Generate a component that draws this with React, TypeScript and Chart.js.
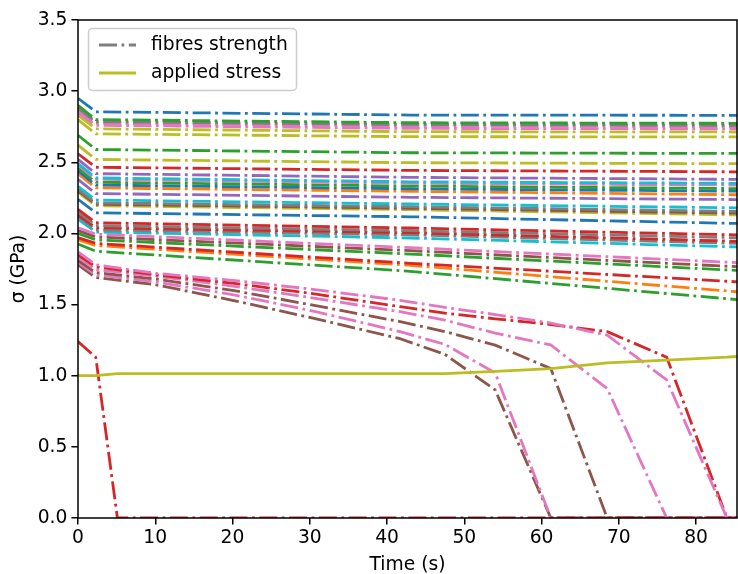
import React, { useEffect, useRef } from 'react';
import { Chart, registerables } from 'chart.js';

Chart.register(...registerables);

// tab10 colours
const C0 = '#1f77b4';
const C1 = '#ff7f0e';
const C2 = '#2ca02c';
const C3 = '#d62728';
const C4 = '#9467bd';
const C5 = '#8c564b';
const C6 = '#e377c2';
const C7 = '#7f7f7f';
const C8 = '#bcbd22';
const C9 = '#17becf';

const X_MAX = 85.3;
const Y_TICKS = [0, 0.5, 1.0, 1.5, 2.0, 2.5, 3.0, 3.5];

// Surviving fibres: sampled at these times
const FLAT_T = [0, 2.3, 43, 85.3];
const FLAT_COLORS = [
  C0, C2, C7, C6, C6, C8, C8, C2, C8, C3, C4, C9, C6, C2, C0, C1, C4, C9, C7, C5, C8, C0,
  C3, C7, C3, C7, C9, C6, C5, C2, C3, C1, C2,
];
const FLAT_V0 = [
  2.95, 2.9, 2.88, 2.87, 2.85, 2.83, 2.8, 2.69, 2.62, 2.56, 2.52, 2.49, 2.48, 2.46, 2.44, 2.42, 2.38, 2.33, 2.31, 2.3, 2.29, 2.24,
  2.17, 2.15, 2.13, 2.12, 2.1, 2.04, 2.02, 2.0, 1.97, 1.955, 1.925,
];
const FLAT_V1 = [
  2.855, 2.8, 2.785, 2.775, 2.76, 2.735, 2.7, 2.59, 2.52, 2.465, 2.42, 2.39, 2.38, 2.36, 2.34, 2.32, 2.28, 2.235, 2.215, 2.205, 2.195, 2.145,
  2.075, 2.055, 2.04, 2.025, 2.01, 1.995, 1.975, 1.955, 1.93, 1.915, 1.875,
];
const FLAT_V43 = [
  2.832, 2.778, 2.766, 2.755, 2.738, 2.715, 2.68, 2.567, 2.497, 2.443, 2.394, 2.363, 2.352, 2.333, 2.314, 2.296, 2.254, 2.207, 2.188, 2.177, 2.167, 2.117,
  2.038, 2.019, 2.005, 1.99, 1.968, 1.9, 1.879, 1.855, 1.79, 1.776, 1.734,
];
const FLAT_VEND = [
  2.83, 2.774, 2.76, 2.75, 2.735, 2.713, 2.678, 2.562, 2.49, 2.433, 2.38, 2.352, 2.34, 2.315, 2.297, 2.272, 2.238, 2.18, 2.155, 2.142, 2.13, 2.07,
  1.99, 1.97, 1.945, 1.93, 1.905, 1.795, 1.766, 1.74, 1.66, 1.59, 1.535,
];

// Fibres that break late
const LATE_T = [0, 2.3, 10, 20, 30, 41.7, 47.5, 54, 61.2, 68.5, 76.2, 84, 85.3];
const LATE_COLORS = [C6, C3, C6, C5, C6, C5];
const LATE_PINK_C = [1.87, 1.78, 1.72, 1.67, 1.61, 1.53, 1.48, 1.43, 1.37, 1.285, 0.97, 0, 0];
const LATE_RED = [1.85, 1.765, 1.71, 1.65, 1.58, 1.485, 1.44, 1.4, 1.36, 1.31, 1.13, 0, 0];
const LATE_PINK_B = [1.835, 1.745, 1.7, 1.63, 1.55, 1.45, 1.39, 1.3, 1.216, 0.91, 0, 0, 0];
const LATE_BROWN_B = [1.81, 1.725, 1.68, 1.6, 1.5, 1.38, 1.31, 1.215, 1.05, 0, 0, 0, 0];
const LATE_PINK_A = [1.795, 1.71, 1.66, 1.57, 1.46, 1.31, 1.22, 1.02, 0, 0, 0, 0, 0];
const LATE_BROWN_A = [1.78, 1.69, 1.64, 1.53, 1.41, 1.26, 1.15, 0.9, 0, 0, 0, 0, 0];

// Fibre that breaks at once
const EARLY_T = [0, 2.3, 5.1, 85.3];
const EARLY_RED = [1.24, 1.13, 0, 0];

// Applied stress
const STRESS_T = [0, 2.3, 5.1, 47.5, 54, 61.2, 68.5, 76.2, 84, 85.3];
const STRESS = [1.0, 1.0, 1.015, 1.015, 1.03, 1.05, 1.09, 1.11, 1.13, 1.135];

const FONT = 'DejaVu Sans';
const FS = 18.7;
const LW = 2.8;
const DASH = [18, 4.5, 2.8, 4.5];

function pts(t: number[], v: number[]) {
  return t.map((x, i) => ({ x, y: v[i] }));
}

function fibreDs(t: number[], v: number[], color: string) {
  return {
    label: 'fibres strength',
    data: pts(t, v),
    borderColor: color,
    backgroundColor: color,
    borderWidth: LW,
    borderDash: DASH,
    borderCapStyle: 'butt',
    borderJoinStyle: 'round',
    pointRadius: 0,
    fill: false,
    tension: 0,
    clip: 0,
  };
}

const framePlugin = {
  id: 'frame',
  afterDraw(chart: any) {
    const { ctx, chartArea } = chart;
    ctx.save();
    ctx.strokeStyle = '#000';
    ctx.lineWidth = 1.5;
    ctx.strokeRect(chartArea.left, chartArea.top, chartArea.right - chartArea.left, chartArea.bottom - chartArea.top);

    // legend
    const x = 88.5, y = 28.5, w = 208, h = 62, r = 4;
    ctx.beginPath();
    ctx.moveTo(x + r, y);
    ctx.lineTo(x + w - r, y);
    ctx.arcTo(x + w, y, x + w, y + r, r);
    ctx.lineTo(x + w, y + h - r);
    ctx.arcTo(x + w, y + h, x + w - r, y + h, r);
    ctx.lineTo(x + r, y + h);
    ctx.arcTo(x, y + h, x, y + h - r, r);
    ctx.lineTo(x, y + r);
    ctx.arcTo(x, y, x + r, y, r);
    ctx.closePath();
    ctx.fillStyle = 'rgba(255,255,255,0.8)';
    ctx.fill();
    ctx.strokeStyle = '#cccccc';
    ctx.lineWidth = 1.5;
    ctx.stroke();

    ctx.lineWidth = LW;
    ctx.lineCap = 'butt';
    ctx.strokeStyle = C7;
    ctx.setLineDash(DASH);
    ctx.beginPath();
    ctx.moveTo(99, 45);
    ctx.lineTo(136, 45);
    ctx.stroke();
    ctx.setLineDash([]);
    ctx.strokeStyle = C8;
    ctx.beginPath();
    ctx.moveTo(99, 73);
    ctx.lineTo(136, 73);
    ctx.stroke();

    ctx.fillStyle = '#000';
    ctx.font = `${FS}px "${FONT}"`;
    ctx.textBaseline = 'middle';
    ctx.textAlign = 'left';
    ctx.fillText('fibres strength', 151, 45);
    ctx.fillText('applied stress', 151, 73);
    ctx.restore();
  },
};

export default function App() {
  const ref = useRef<HTMLCanvasElement>(null);
  useEffect(() => {
    document.body.style.margin = '0';
    const datasets: any[] = [];
    datasets.push({
      label: 'applied stress',
      data: pts(STRESS_T, STRESS),
      borderColor: C8,
      backgroundColor: C8,
      borderWidth: LW,
      borderJoinStyle: 'round',
      borderCapStyle: 'butt',
      pointRadius: 0,
      fill: false,
      clip: 0,
    });
    datasets.push(fibreDs(EARLY_T, EARLY_RED, C3));
    const lates = [LATE_PINK_C, LATE_RED, LATE_PINK_B, LATE_BROWN_B, LATE_PINK_A, LATE_BROWN_A];
    lates.forEach((v, i) => datasets.push(fibreDs(LATE_T, v, LATE_COLORS[i])));
    FLAT_COLORS.forEach((c, i) =>
      datasets.push(fibreDs(FLAT_T, [FLAT_V0[i], FLAT_V1[i], FLAT_V43[i], FLAT_VEND[i]], c))
    );

    Chart.defaults.font.family = FONT;
    Chart.defaults.font.size = FS;
    Chart.defaults.color = '#000';

    const tickGrid = { display: true, drawOnChartArea: false, drawTicks: true, tickLength: 6.6, color: '#000', lineWidth: 1.5 };

    const chart = new Chart(ref.current!, {
      type: 'line',
      data: { datasets },
      options: {
        animation: false,
        responsive: false,
        devicePixelRatio: 1,
        layout: { padding: { top: 20, right: 1, left: 0, bottom: 0 } },
        plugins: { legend: { display: false }, tooltip: { enabled: false } },
        scales: {
          x: {
            type: 'linear',
            min: 0,
            max: X_MAX,
            afterFit: (s: any) => { s.height = 56; },
            ticks: { stepSize: 10, includeBounds: false, padding: 2, color: '#000', font: { size: FS } },
            grid: tickGrid,
            border: { display: false },
            title: { display: true, text: 'Time (s)', color: '#000', font: { size: FS, lineHeight: 1 }, padding: { top: 0, bottom: 0 } },
          },
          y: {
            type: 'linear',
            min: 0,
            max: 3.5,
            afterFit: (s: any) => { s.width = 78; },
            afterBuildTicks: (s: any) => { s.ticks = Y_TICKS.map((v) => ({ value: v })); },
            ticks: { callback: (v: any) => Number(v).toFixed(1), padding: 4, color: '#000', font: { size: FS } },
            grid: tickGrid,
            border: { display: false },
            title: { display: true, text: 'σ (GPa)', color: '#000', font: { size: FS, lineHeight: 1 }, padding: { top: 10, bottom: 0 } },
          },
        },
      },
      plugins: [framePlugin],
    } as any);
    return () => chart.destroy();
  }, []);
  return (
    <div style={{ width: 738, height: 574 }}>
      <canvas ref={ref} width={738} height={574} style={{ width: 738, height: 574, display: 'block' }} />
    </div>
  );
}
